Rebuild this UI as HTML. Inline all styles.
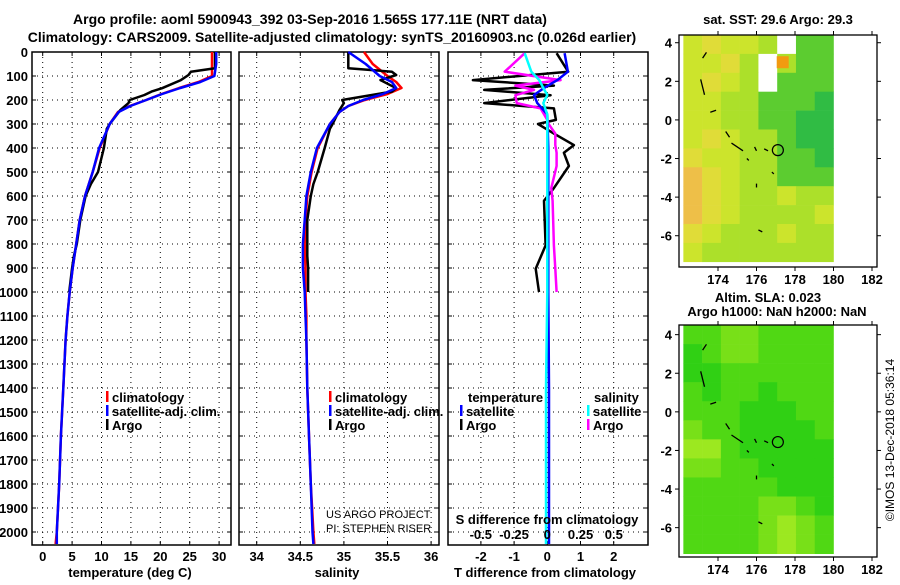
<!DOCTYPE html>
<html><head><meta charset="utf-8"><style>
body{margin:0;background:#fff}
svg text{font-family:"Liberation Sans",sans-serif;font-weight:bold;font-size:13px;fill:#000}
</style></head><body>
<svg id="c" width="900" height="580" xmlns="http://www.w3.org/2000/svg">
<text x="310" y="24" text-anchor="middle" style="font-size:14px">Argo profile: aoml 5900943_392 03-Sep-2016 1.565S 177.11E (NRT data)</text>
<text x="332" y="42" text-anchor="middle" style="font-size:14px">Climatology: CARS2009. Satellite-adjusted climatology: synTS_20160903.nc (0.026d earlier)</text>
<text x="778" y="24" text-anchor="middle">sat. SST: 29.6 Argo: 29.3</text>
<text x="768" y="302" text-anchor="middle">Altim. SLA: 0.023</text>
<text x="777" y="316" text-anchor="middle">Argo h1000: NaN h2000: NaN</text>
<text transform="translate(894,440) rotate(-90)" text-anchor="middle" style="font-weight:normal;font-size:12px">©IMOS 13-Dec-2018 05:36:14</text>
</svg>
<script>
// ---- data ----
const depthClim=[0,50,100,125,150,175,200,225,250,300,400,500,600,700,800,900,1000,1100,1200,1400,1600,1800,2000,2050];
const tempClim=[28.8,28.8,28.8,26.5,23.2,20.2,17.6,14.8,12.8,11.4,9.7,8.5,7.2,6.3,5.7,5.1,4.6,4.2,3.9,3.5,3.1,2.8,2.4,2.2];
const tempSat=[29.5,29.5,29.2,26.8,23.4,20.3,17.6,14.9,12.9,11.4,9.6,8.5,7.2,6.3,5.7,5.1,4.6,4.2,3.9,3.5,3.1,2.8,2.4,2.4];
const salClim=[35.23,35.33,35.5,35.6,35.66,35.5,35.24,35.05,34.95,34.84,34.7,34.63,34.58,34.56,34.55,34.56,34.56,34.57,34.57,34.58,34.6,34.62,34.65,34.66];
const salSat=[35.05,35.25,35.41,35.55,35.6,35.45,35.22,35.05,34.95,34.84,34.69,34.62,34.57,34.55,34.53,34.53,34.55,34.56,34.57,34.58,34.6,34.62,34.64,34.65];
const depthArgo=[0,68,82,96,117,151,165,179,200,213,242,300,320,400,500,550,600,700,800,850,900,1000];
const tempArgo=[29.3,29.3,25.2,24.8,23.5,20.3,18.5,17.3,14.8,14.6,13.2,11.4,10.9,10.4,9.4,8.2,7.3,6.4,5.8,5.3,5.0,4.5];
const salArgo=[35.05,35.05,35.55,35.6,35.42,35.6,35.55,35.32,34.98,35.0,34.95,34.87,34.84,34.78,34.7,34.65,34.62,34.58,34.58,34.58,34.59,34.59];
const depthDiff=[5,82,117,140,158,180,213,235,283,300,340,388,420,475,567,620,806,903,1000];
const tDiffArgo=[0.28,0.63,-2.24,0.2,-1.9,0.1,-1.9,0.2,0.26,-0.28,0.2,0.8,0.5,0.65,0.2,-0.1,-0.05,-0.35,-0.25];
const sDiffArgo=[-0.17,-0.32,0.1,-0.24,-0.1,-0.24,-0.23,-0.05,0,0.01,0.06,0.06,0.07,0.07,0.03,0.04,0.05,0.06,0.07];
const depthDiffSat=[5,82,117,150,179,213,260,400,1000,1400,2050];
const tDiffSat=[0.52,0.62,0.3,-0.1,-0.4,-0.3,0,0.03,0.03,0.05,0.05];
const sDiffSat=[-0.17,-0.12,-0.06,-0.03,0,-0.03,0,0,0,-0.01,-0.01];
const depthTicks=[0,100,200,300,400,500,600,700,800,900,1000,1100,1200,1300,1400,1500,1600,1700,1800,1900,2000];
const tempTicks=[0,5,10,15,20,25,30];
const salTicks=[34,34.5,35,35.5,36];
const tDiffTicks=[-2,-1,0,1,2];
const sDiffTicks=[-0.5,-0.25,0,0.25,0.5];
const lonTicks=[174,176,178,180,182];
const latTicks=[4,2,0,-2,-4,-6];
const sstGrid=[
[2,1,2,2,3,-1,4,4],[2,2,1,3,-1,3,4,4],[2,1,2,3,-1,4,4,4],[2,2,3,3,4,4,4,5],
[2,2,3,3,4,4,5,5],[2,1,2,3,3,4,5,5],[1,2,2,3,3,4,4,5],[0,1,2,3,3,4,4,4],
[0,1,2,3,3,2,3,3],[0,1,2,3,3,3,3,2],[1,2,3,3,3,2,3,3],[2,3,3,3,3,3,3,3]];
const slaGrid=[
[1,1,2,2,1,1,1,1],[0,1,2,2,1,1,1,1],[0,0,1,1,1,1,1,1],[1,0,1,1,0,1,1,1],
[1,1,1,0,0,0,1,1],[2,1,1,0,0,0,0,1],[3,3,1,0,0,0,0,0],[2,2,1,1,0,0,0,0],
[1,1,1,1,1,0,0,0],[1,1,1,1,2,2,1,0],[1,1,1,1,2,3,2,1],[1,1,1,1,2,3,2,1]];
const argoLon=177.11, argoLat=-1.565;

const svg=document.getElementById('c');
const NS='http://www.w3.org/2000/svg';
function mk(tag,attrs,parent){const e=document.createElementNS(NS,tag);for(const k in attrs)e.setAttribute(k,attrs[k]);(parent||svg).appendChild(e);return e;}
function txt(x,y,s,anchor,parent,extra){const t=mk('text',Object.assign({x:x,y:y,'text-anchor':anchor||'middle'},extra||{}),parent);t.textContent=s;return t;}

const Y0=52,Y1=545;
const yD=d=>Y0+d*0.24;
const panels=[
 {x0:32,x1:231,f:v=>42.7+v*5.88,ticks:tempTicks,name:'temperature-panel',title:'temperature (deg C)',tx:130},
 {x0:239,x1:439,f:v=>256.7+(v-34)*87.2,ticks:salTicks,name:'salinity-panel',title:'salinity',tx:337},
 {x0:448,x1:648,f:v=>547.3+v*33.2,ticks:tDiffTicks,name:'difference-panel',title:'T difference from climatology',tx:545}
];
const sX=v=>547.3+v*133;

panels.forEach((p,i)=>{
 const g=mk('g',{});
 
 
 depthTicks.forEach(d=>{if(d>0){const l=mk('line',{x1:p.x0,x2:p.x1,y1:yD(d),y2:yD(d),stroke:'#000','stroke-width':1,'stroke-dasharray':'1,4'},g);
  }
  mk('line',{x1:p.x0,x2:p.x0+4,y1:yD(d),y2:yD(d),stroke:'#000'},g);mk('line',{x1:p.x1,x2:p.x1-4,y1:yD(d),y2:yD(d),stroke:'#000'},g);});
 p.ticks.forEach(v=>{const x=p.f(v);const l=mk('line',{x1:x,x2:x,y1:Y0,y2:Y1,stroke:'#000','stroke-width':1,'stroke-dasharray':'1,4'},g);
  
  mk('line',{x1:x,x2:x,y1:Y1,y2:Y1-4,stroke:'#000'},g);mk('line',{x1:x,x2:x,y1:Y0,y2:Y0+4,stroke:'#000'},g);
  const t=txt(x,561,String(v),'middle',g);});
 const r=mk('rect',{x:p.x0,y:Y0,width:p.x1-p.x0,height:Y1-Y0,fill:'none',stroke:'#000','stroke-width':1.5},g);
 
 const at=txt(p.tx,577,p.title,'middle',g);
});
depthTicks.forEach(d=>{const t=txt(28,yD(d)+5,String(d),'end');});

function series(xs,ds,fx,color,name,w){
 const pts=xs.map((v,i)=>fx(v).toFixed(1)+','+yD(ds[i]).toFixed(1)).join(' ');
 const pl=mk('polyline',{points:pts,fill:'none',stroke:color,'stroke-width':w||2.5,'stroke-linejoin':'round'});
 
 
}
const P=panels;
series(tempClim,depthClim,P[0].f,'#ff0000','temp-climatology-line');
series(tempArgo,depthArgo,P[0].f,'#000','temp-argo-line');
series(tempSat,depthClim,P[0].f,'#0000ff','temp-satellite-line');
series(salClim,depthClim,P[1].f,'#ff0000','sal-climatology-line');
series(salArgo,depthArgo,P[1].f,'#000','sal-argo-line');
series(salSat,depthClim,P[1].f,'#0000ff','sal-satellite-line');
series(tDiffArgo,depthDiff,P[2].f,'#000','tdiff-argo-line');
series(sDiffArgo,depthDiff,sX,'#ff00ff','sdiff-argo-line');
series(tDiffSat,depthDiffSat,P[2].f,'#0000ff','tdiff-satellite-line');
series(sDiffSat,depthDiffSat,sX,'#00ffff','sdiff-satellite-line');

const sdt=txt(547,524,'S difference from climatology');


sDiffTicks.forEach(v=>{const t=txt(sX(v),539,String(v));});

function legend(x,y,color,label,name){
 const g=mk('g',{});
 mk('rect',{x:x,y:y-11,width:2.5,height:11,fill:color},g);txt(x+6,y,label,'start',g);
}
legend(106,402,'#ff0000','climatology','legend-climatology');
legend(106,416,'#0000ff','satellite-adj. clim.','legend-satellite-adj');
legend(106,430,'#000','Argo','legend-argo');
legend(329,402,'#ff0000','climatology','legend-sal-climatology');
legend(329,416,'#0000ff','satellite-adj. clim.','legend-sal-satellite-adj');
legend(329,430,'#000','Argo','legend-sal-argo');
const lt=txt(468,402,'temperature','start');


legend(460,416,'#0000ff','satellite','legend-t-satellite');
legend(460,430,'#000','Argo','legend-t-argo');
const ls=txt(594,402,'salinity','start');


legend(587,416,'#00ffff','satellite','legend-s-satellite');
legend(587,430,'#ff00ff','Argo','legend-s-argo');
const c1=txt(326,518,'US ARGO PROJECT','start',null,{style:'font-weight:normal;font-size:11px'});


const c2=txt(326,532,'PI: STEPHEN RISER','start',null,{style:'font-weight:normal;font-size:11px'});



// ---- maps ----
const sstCol={'-1':'#ffffff',0:'#eebf48',1:'#e0dc38',2:'#cce42c',3:'#ace02a',4:'#5ccc30',5:'#30bc44'};
const slaCol={0:'#30d014',1:'#50d814',2:'#78e018',3:'#9ce820'};
const lonX=l=>679.5+(l-172)*19.25;
function map(top,bottom,lat0,grid,cols,name){
 const latY=la=>top+(lat0-la)*19.3;
 const g=mk('g',{});
 const latTop=lat0,latBot=-7.35,nr=grid.length,nc=grid[0].length,dl=(latTop-latBot)/nr,dn=7.8/nc;
 grid.forEach((row,i)=>row.forEach((v,j)=>{
  const x=lonX(172.2+j*dn),y=latY(latTop-i*dl);
  const c=mk('rect',{x:x,y:y,width:lonX(172.2+(j+1)*dn)-x+0.3,height:latY(latTop-(i+1)*dl)-y+0.3,fill:cols[v]},g);
  
  
 }));
 [[173.2,3.2,173.4,3.5],[173.1,2.1,173.3,1.3],[173.6,0.4,173.9,0.5],[174.4,-0.6,174.6,-0.9],[174.7,-1.2,175.3,-1.6],[175.9,-1.4,176,-1.6],[176.4,-1.5,176.6,-1.6],[175.5,-2.0,175.6,-2.1],[176.8,-2.7,176.9,-2.8],[176,-3.3,176,-3.5],[176.1,-5.7,176.3,-5.8]].forEach(s=>{
  mk('line',{x1:lonX(s[0]),y1:latY(s[1]),x2:lonX(s[2]),y2:latY(s[3]),stroke:'#000','stroke-width':1.3},g);});
 const m=mk('circle',{cx:lonX(argoLon),cy:latY(argoLat),r:5.5,fill:'none',stroke:'#000','stroke-width':1.2},g);
 
 
 mk('rect',{x:679,y:top,width:198,height:bottom-top,fill:'none',stroke:'#000','stroke-width':1.3},g);
 latTicks.forEach(la=>{const y=latY(la);mk('line',{x1:679,x2:675,y1:y,y2:y,stroke:'#000'},g);mk('line',{x1:877,x2:881,y1:y,y2:y,stroke:'#000'},g);
  const t=txt(672,y+5,String(la),'end',g);});
 lonTicks.forEach(lo=>{const x=lonX(lo);mk('line',{x1:x,x2:x,y1:bottom,y2:bottom+4,stroke:'#000'},g);mk('line',{x1:x,x2:x,y1:top,y2:top-4,stroke:'#000'},g);
  const t=txt(x,bottom+17,String(lo),'middle',g);});
 return latY;
}
const ly=map(35,267,4.4,sstGrid,sstCol,'sst-map');
const sq=mk('rect',{x:lonX(177.05),y:ly(3.3),width:12,height:12,fill:'#f29a10'});


map(325,557,4.5,slaGrid,slaCol,'sla-map');
</script>
</body></html>
